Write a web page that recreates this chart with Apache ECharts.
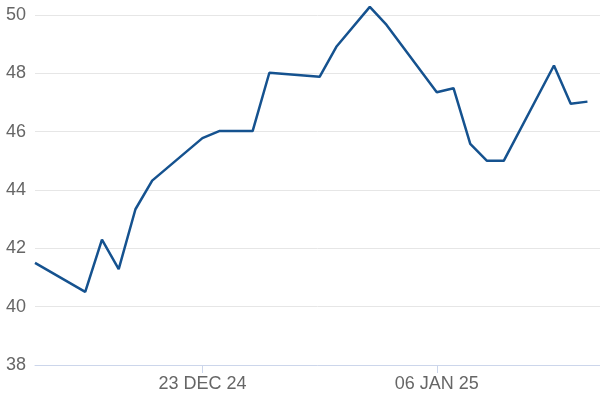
<!DOCTYPE html>
<html>
<head>
<meta charset="utf-8">
<script src="https://cdn.jsdelivr.net/npm/echarts@6/dist/echarts.min.js"></script>
<style>html,body{margin:0;padding:0;background:#fff}#c{width:600px;height:400px}</style>
</head>
<body>
<div id="c"></div>
<script>
const dates = ['2024-12-13','2024-12-16','2024-12-17','2024-12-18','2024-12-19','2024-12-20',
  '2024-12-23','2024-12-24','2024-12-26','2024-12-27','2024-12-30','2024-12-31',
  '2025-01-02','2025-01-03','2025-01-06','2025-01-07','2025-01-08','2025-01-09','2025-01-10',
  '2025-01-13','2025-01-14','2025-01-15'];
const values = [41.50,40.51,42.30,41.29,43.34,44.32,
  45.78,46.02,46.02,48.02,47.88,48.91,
  50.28,49.66,47.35,47.49,45.58,45.00,45.00,
  48.27,46.96,47.03];
const tickDates = ['2024-12-23','2025-01-06'];
const yTicks = [38,40,42,44,46,48,50];

const MONTHS = ['JAN','FEB','MAR','APR','MAY','JUN','JUL','AUG','SEP','OCT','NOV','DEC'];
function ts(s){const p=s.split('-');return Date.UTC(+p[0],+p[1]-1,+p[2]);}
function fmt(v){const d=new Date(v);return String(d.getUTCDate()).padStart(2,'0')+' '+MONTHS[d.getUTCMonth()]+' '+String(d.getUTCFullYear()).slice(2);}
const DAY=86400000;
const xMin = ts(dates[0]);
const xMax = ts(dates[dates.length-1]) + 0.75*DAY;
const tickVals = tickDates.map(ts);

const chart = echarts.init(document.getElementById('c'), null, {renderer:'canvas'});
chart.setOption({
  animation:false,
  grid:{left:35,right:0,top:15,bottom:35,containLabel:false},
  xAxis:{
    type:'value', min:xMin, max:xMax,
    axisLine:{show:true,lineStyle:{color:'#ccd6eb',width:1}},
    axisTick:{show:true,customValues:tickVals,length:8,lineStyle:{color:'#ccd6eb'}},
    axisLabel:{customValues:tickVals,formatter:(v)=>fmt(v),color:'#666',fontSize:18,
      fontFamily:'Liberation Sans, Arial, sans-serif',margin:10},
    splitLine:{show:false}
  },
  yAxis:{
    type:'value', min:yTicks[0], max:yTicks[yTicks.length-1], interval:2,
    axisLine:{show:false}, axisTick:{show:false},
    axisLabel:{color:'#666',fontSize:18,fontFamily:'Liberation Sans, Arial, sans-serif',margin:9},
    splitLine:{lineStyle:{color:'#e6e6e6',width:1}}
  },
  series:[{
    type:'line', clip:false, showSymbol:false, symbol:'none',
    data: dates.map((d,i)=>[ts(d),values[i]]),
    lineStyle:{color:'#15528f',width:2.5},
    emphasis:{disabled:true}
  }]
});
</script>
</body>
</html>
